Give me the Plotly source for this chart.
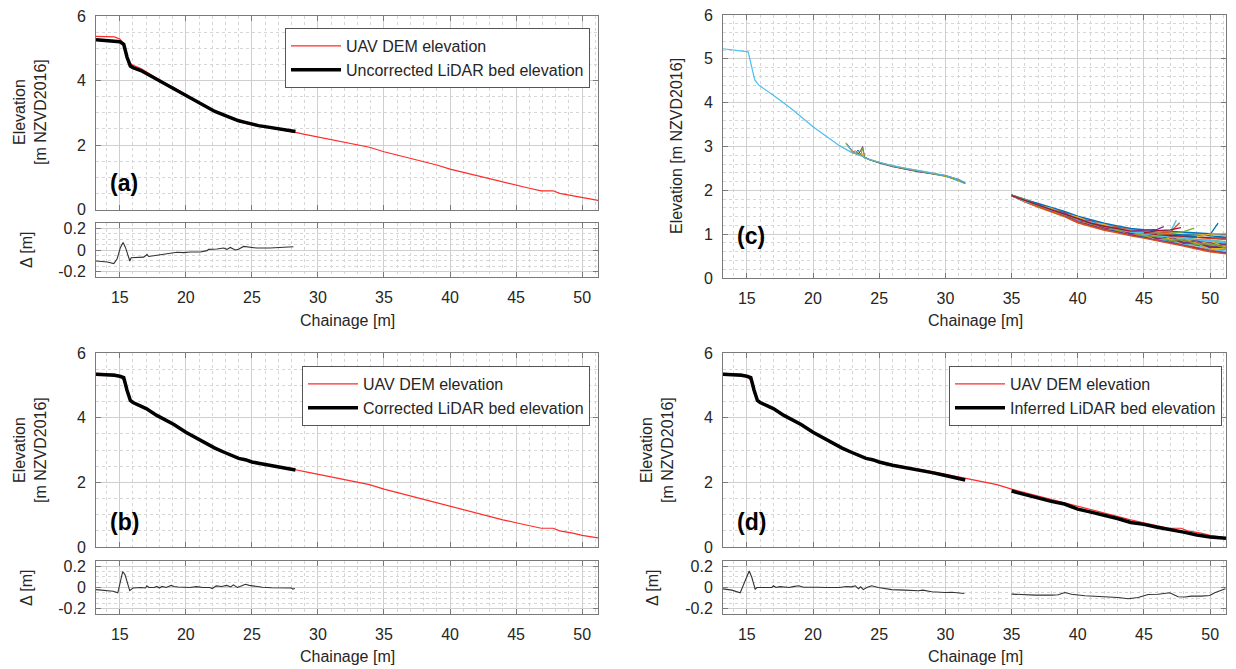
import plotly.graph_objects as go

W, H = 1236, 669

# ---------------- data ----------------
UAV_X = [13.2, 14.0, 14.6, 15.0, 15.3, 15.55, 15.8, 16.0, 16.6, 17.0, 17.8, 18.5, 19.1, 20.0, 20.4,
         21.0, 21.6, 22.2, 22.9, 23.3, 23.6, 24.0, 24.5, 25.0, 25.5, 26.0, 26.5, 27.0, 27.5, 28.3,
         29.0, 30.0, 31.4, 32.7, 33.9, 35.0, 36.5, 37.6, 39.0, 40.0, 41.5, 42.8, 44.0, 45.0, 46.0,
         46.9, 47.8, 48.3, 49.3, 50.0, 51.2]
UAV_Y = [5.37, 5.36, 5.35, 5.29, 5.15, 4.75, 4.53, 4.47, 4.37, 4.27, 4.07, 3.90, 3.78, 3.55, 3.46,
         3.32, 3.17, 3.05, 2.92, 2.86, 2.80, 2.73, 2.67, 2.62, 2.58, 2.55, 2.52, 2.49, 2.46, 2.39,
         2.33, 2.25, 2.15, 2.03, 1.93, 1.79, 1.63, 1.53, 1.38, 1.25, 1.10, 0.96, 0.84, 0.75, 0.66,
         0.58, 0.58, 0.50, 0.43, 0.36, 0.28]

BED_X = [13.2, 14.0, 14.6, 15.0, 15.3, 15.55, 15.8, 16.0, 16.6, 17.0, 17.8, 18.5, 19.1, 20.0, 20.4,
         21.0, 21.6, 22.2, 22.9, 23.3, 23.6, 24.0, 24.5, 25.0, 25.5, 26.0, 26.5, 27.0, 27.5, 28.3]
UNCORR_Y = [5.26, 5.24, 5.22, 5.20, 5.12, 4.72, 4.45, 4.40, 4.31, 4.22, 4.03, 3.86, 3.74, 3.52, 3.44,
            3.30, 3.16, 3.04, 2.93, 2.86, 2.80, 2.75, 2.70, 2.64, 2.60, 2.57, 2.54, 2.51, 2.48, 2.42]
CORR_Y = [5.34, 5.33, 5.31, 5.28, 5.24, 4.85, 4.53, 4.47, 4.37, 4.28, 4.07, 3.91, 3.79, 3.55, 3.46,
          3.32, 3.17, 3.06, 2.93, 2.87, 2.80, 2.74, 2.70, 2.63, 2.59, 2.55, 2.52, 2.48, 2.45, 2.38]

INF1_X = [13.2, 14.0, 14.6, 15.0, 15.3, 15.55, 15.8, 16.0, 16.6, 17.0, 17.8, 18.5, 19.1, 20.0, 20.4,
          21.0, 21.6, 22.2, 22.9, 23.3, 23.6, 24.0, 24.5, 25.0, 26.0, 27.0, 28.0, 29.0, 30.0, 31.5]
INF1_Y = [5.34, 5.33, 5.31, 5.28, 5.24, 4.85, 4.53, 4.47, 4.37, 4.28, 4.07, 3.91, 3.79, 3.55, 3.46,
          3.32, 3.17, 3.06, 2.93, 2.87, 2.80, 2.74, 2.70, 2.63, 2.53, 2.46, 2.39, 2.30, 2.21, 2.07]
INF2_X = [35.0, 36.0, 37.0, 38.0, 39.0, 40.0, 41.0, 42.0, 43.0, 44.0, 45.0, 46.0, 47.0, 48.0, 49.0,
          50.0, 51.2]
INF2_Y = [1.73, 1.62, 1.52, 1.41, 1.33, 1.17, 1.08, 0.99, 0.88, 0.76, 0.70, 0.61, 0.54, 0.46, 0.37,
          0.31, 0.27]

DA_X = [13.2, 14.05, 14.55, 14.8, 15.05, 15.25, 15.43, 15.61, 15.76, 15.86, 16.06, 16.81, 17.07,
        17.19, 17.82, 18.33, 18.83, 19.33, 19.84, 20.34, 21.1, 21.6, 21.72, 22.35, 22.86, 23.11,
        23.36, 23.74, 23.99, 24.37, 24.62, 25.38, 26.38, 27.39, 28.14]
DA_Y = [-0.102, -0.111, -0.126, -0.081, 0.024, 0.069, 0.024, -0.051, -0.102, -0.072, -0.072,
        -0.066, -0.042, -0.060, -0.048, -0.036, -0.030, -0.021, -0.024, -0.018, -0.018, -0.006,
        0.006, 0.009, 0.018, 0.006, 0.024, 0.0, 0.006, 0.033, 0.030, 0.018, 0.018, 0.021, 0.030]

DB_X = [13.2, 13.9, 14.5, 14.85, 15.05, 15.22, 15.4, 15.6, 15.75, 16.0, 16.6, 16.95, 17.05, 17.2,
        17.6, 17.8, 18.0, 18.2, 18.5, 18.9, 19.1, 19.4, 19.8, 20.3, 20.8, 21.3, 21.8, 22.0, 22.3,
        22.7, 23.1, 23.4, 23.6, 23.9, 24.2, 24.5, 24.8, 25.2, 25.8, 26.5, 27.2, 27.8, 28.0, 28.1, 28.25]
DB_Y = [-0.02, -0.025, -0.035, -0.05, 0.06, 0.15, 0.12, 0.02, -0.03, -0.005, 0.0, -0.005, 0.015,
        0.0, 0.0, 0.01, -0.005, 0.01, 0.0, 0.02, 0.01, 0.005, 0.005, 0.0, 0.008, 0.0, 0.0, -0.01,
        0.015, 0.01, 0.02, 0.005, 0.025, 0.0, 0.015, 0.03, 0.02, 0.01, 0.002, -0.003, -0.005,
        -0.01, -0.005, -0.015, -0.01]

DD1_X = [13.2, 13.87, 14.5, 14.88, 15.18, 15.38, 15.63, 15.76, 16.3, 16.89, 17.01, 17.2, 17.5,
         17.9, 18.2, 18.5, 18.9, 19.3, 19.7, 20.41, 21.0, 21.67, 22.0, 22.5, 22.92, 23.2, 23.43,
         23.6, 23.8, 24.06, 24.43, 24.94, 25.94, 26.95, 27.96, 28.3, 28.96, 29.97, 30.5, 31.43]
DD1_Y = [-0.0125, -0.025, -0.05, 0.0625, 0.156, 0.094, -0.016, 0.0, 0.0, 0.0, 0.016, 0.0, 0.008,
         0.006, 0.0, 0.008, 0.016, 0.003, 0.005, 0.003, 0.0, 0.003, 0.0, 0.01, 0.006, 0.016, -0.012,
         0.006, -0.02, 0.0, 0.016, 0.0, -0.02, -0.025, -0.031, -0.025, -0.04, -0.047, -0.045, -0.056]
DD2_X = [35.0, 35.5, 36.77, 38.02, 38.52, 39.03, 39.53, 40.54, 41.79, 43.05, 43.8, 44.56, 45.32,
         46.07, 46.95, 47.58, 48.09, 48.58, 49.34, 49.97, 50.35, 50.85, 51.15]
DD2_Y = [-0.0625, -0.066, -0.072, -0.072, -0.069, -0.047, -0.063, -0.078, -0.084, -0.094, -0.106,
         -0.094, -0.066, -0.063, -0.05, -0.0875, -0.09, -0.081, -0.081, -0.075, -0.05, -0.031, -0.0125]

# panel (c)
C_MAIN_X = [13.2, 15.1, 15.6, 15.9, 17.0, 18.3, 20.0, 22.0, 23.0, 23.3, 23.6, 23.9, 24.2, 25.2,
            26.9, 28.6, 29.8, 31.45]
C_MAIN_Y = [5.23, 5.16, 4.52, 4.40, 4.17, 3.88, 3.45, 3.02, 2.85, 2.84, 2.80, 2.75, 2.71, 2.62,
            2.51, 2.42, 2.35, 2.16]
C_SEG_X = [22.5, 23.0, 23.2, 23.4, 23.6, 23.75, 23.9, 24.3, 25.0, 26.0, 27.0, 28.0, 29.0, 30.0,
           31.0, 31.5]
C_SEG_Y = [
    [3.08, 2.88, 2.84, 2.92, 2.82, 2.78, 2.74, 2.70, 2.64, 2.55, 2.49, 2.43, 2.38, 2.33, 2.24, 2.17],
    [3.07, 2.87, 2.90, 2.84, 2.80, 2.78, 2.74, 2.69, 2.63, 2.55, 2.48, 2.43, 2.37, 2.32, 2.23, 2.16],
    [3.09, 2.89, 2.85, 2.83, 2.93, 2.80, 2.75, 2.70, 2.63, 2.56, 2.50, 2.44, 2.39, 2.33, 2.24, 2.17],
    [3.08, 2.88, 2.84, 2.82, 2.90, 3.00, 2.76, 2.70, 2.62, 2.54, 2.48, 2.42, 2.38, 2.34, 2.25, 2.17],
    [3.06, 2.86, 2.83, 2.81, 2.79, 2.96, 2.75, 2.69, 2.63, 2.55, 2.49, 2.44, 2.38, 2.32, 2.23, 2.15],
    [3.08, 2.87, 2.84, 2.82, 2.80, 2.77, 2.74, 2.70, 2.64, 2.56, 2.50, 2.44, 2.39, 2.34, 2.25, 2.18],
]
SP_X = [35, 36, 37, 38, 39, 40, 41, 42, 43, 44, 45, 46, 47, 48, 49, 50, 51.2]
SP_Y = [
    [1.89, 1.80, 1.69, 1.60, 1.50, 1.38, 1.30, 1.22, 1.16, 1.10, 1.06, 1.03, 1.00, 0.98, 0.99, 0.96, 0.93],
    [1.88, 1.74, 1.63, 1.52, 1.41, 1.27, 1.19, 1.11, 1.05, 0.99, 0.93, 0.88, 0.82, 0.76, 0.70, 0.64, 0.58],
    [1.89, 1.78, 1.69, 1.56, 1.48, 1.35, 1.29, 1.18, 1.13, 1.05, 1.01, 0.94, 0.91, 0.84, 0.80, 0.74, 0.70],
    [1.88, 1.76, 1.64, 1.55, 1.44, 1.31, 1.24, 1.14, 1.09, 1.01, 0.97, 0.90, 0.87, 0.80, 0.77, 0.69, 0.65],
    [1.89, 1.79, 1.67, 1.58, 1.47, 1.36, 1.27, 1.20, 1.12, 1.08, 1.02, 0.99, 0.95, 0.92, 0.88, 0.86, 0.83],
    [1.88, 1.75, 1.66, 1.53, 1.45, 1.30, 1.24, 1.13, 1.08, 1.00, 0.95, 0.87, 0.84, 0.77, 0.74, 0.66, 0.61],
    [1.89, 1.77, 1.68, 1.57, 1.46, 1.37, 1.26, 1.21, 1.11, 1.07, 1.00, 0.97, 0.91, 0.89, 0.83, 0.81, 0.76],
    [1.88, 1.78, 1.65, 1.58, 1.45, 1.34, 1.28, 1.16, 1.13, 1.04, 1.02, 0.93, 0.92, 0.83, 0.82, 0.72, 0.72],
    [1.89, 1.76, 1.67, 1.54, 1.47, 1.32, 1.27, 1.15, 1.12, 1.02, 1.00, 0.91, 0.90, 0.81, 0.81, 0.70, 0.68],
    [1.88, 1.79, 1.68, 1.59, 1.49, 1.39, 1.31, 1.23, 1.17, 1.11, 1.08, 1.05, 1.04, 1.02, 1.01, 0.98, 0.97],
    [1.89, 1.75, 1.64, 1.54, 1.43, 1.29, 1.21, 1.12, 1.06, 0.98, 0.93, 0.86, 0.81, 0.74, 0.68, 0.61, 0.57],
    [1.88, 1.77, 1.68, 1.56, 1.48, 1.36, 1.29, 1.19, 1.15, 1.06, 1.04, 0.97, 0.96, 0.88, 0.87, 0.79, 0.80],
    [1.89, 1.78, 1.66, 1.57, 1.46, 1.35, 1.25, 1.19, 1.10, 1.06, 0.99, 0.96, 0.89, 0.87, 0.79, 0.77, 0.71],
    [1.88, 1.76, 1.67, 1.55, 1.47, 1.33, 1.28, 1.17, 1.14, 1.04, 1.03, 0.95, 0.94, 0.86, 0.85, 0.78, 0.77],
    [1.89, 1.77, 1.65, 1.56, 1.44, 1.34, 1.23, 1.17, 1.07, 1.03, 0.95, 0.92, 0.85, 0.83, 0.75, 0.73, 0.66],
    [1.88, 1.78, 1.69, 1.58, 1.49, 1.37, 1.30, 1.21, 1.16, 1.09, 1.05, 1.00, 0.98, 0.94, 0.92, 0.90, 0.88],
    [1.89, 1.75, 1.65, 1.53, 1.45, 1.31, 1.25, 1.14, 1.10, 1.01, 0.98, 0.89, 0.88, 0.79, 0.78, 0.68, 0.66],
    [1.88, 1.77, 1.66, 1.57, 1.46, 1.35, 1.26, 1.20, 1.11, 1.07, 0.99, 0.98, 0.90, 0.90, 0.82, 0.82, 0.74],
    [1.89, 1.76, 1.68, 1.55, 1.48, 1.33, 1.29, 1.16, 1.14, 1.03, 1.03, 0.93, 0.93, 0.84, 0.85, 0.75, 0.75],
    [1.88, 1.78, 1.67, 1.58, 1.47, 1.38, 1.27, 1.22, 1.12, 1.09, 1.01, 1.00, 0.92, 0.93, 0.85, 0.86, 0.79],
    [1.89, 1.76, 1.65, 1.56, 1.45, 1.32, 1.26, 1.15, 1.11, 1.02, 1.00, 0.90, 0.90, 0.80, 0.80, 0.70, 0.70],
    [1.88, 1.78, 1.70, 1.61, 1.52, 1.41, 1.33, 1.25, 1.19, 1.13, 1.10, 1.08, 1.07, 1.05, 1.03, 1.01, 1.00],
    [1.89, 1.74, 1.62, 1.51, 1.40, 1.26, 1.18, 1.09, 1.03, 0.96, 0.91, 0.85, 0.80, 0.73, 0.66, 0.60, 0.55],
    [1.88, 1.77, 1.66, 1.59, 1.46, 1.39, 1.26, 1.22, 1.10, 1.08, 0.98, 0.99, 0.88, 0.91, 0.79, 0.84, 0.71],
    [1.89, 1.76, 1.68, 1.54, 1.49, 1.31, 1.30, 1.14, 1.15, 1.00, 1.04, 0.89, 0.95, 0.80, 0.86, 0.69, 0.78],
    [1.88, 1.79, 1.65, 1.57, 1.44, 1.36, 1.23, 1.19, 1.08, 1.06, 0.96, 0.95, 0.86, 0.88, 0.77, 0.79, 0.68],
    [1.89, 1.75, 1.67, 1.55, 1.47, 1.33, 1.28, 1.17, 1.13, 1.05, 1.01, 0.97, 0.93, 0.91, 0.87, 0.85, 0.82],
    [1.88, 1.77, 1.66, 1.56, 1.46, 1.35, 1.25, 1.18, 1.12, 1.07, 1.03, 0.99, 0.97, 0.95, 0.94, 0.92, 0.91],
]
TAIL_X = [[44, 45, 46, 47, 47.45], [45, 46, 47, 47.7], [46, 47, 48, 48.8], [48, 49, 50, 50.6],
          [44, 45, 46, 46.5], [45, 46, 47, 47.8], [49, 50, 51.2]]
TAIL_Y = [[1.05, 1.04, 1.02, 1.06, 1.32], [1.04, 1.02, 1.05, 1.26], [1.00, 1.02, 1.06, 1.14],
          [0.97, 0.95, 0.99, 1.25], [1.07, 1.09, 1.11, 1.17], [1.03, 1.08, 1.10, 1.15],
          [0.94, 1.00, 1.02]]

MCOL = ['#0072BD', '#D95319', '#EDB120', '#7E2F8E', '#77AC30', '#4DBEEE', '#A2142F']

# ---------------- styling ----------------
FONT = 'Liberation Sans, Arial, Helvetica, sans-serif'
TXT = '#262626'
AXC = '#7a7a7a'
GRID = '#cfcfcf'
MGRID = '#d6d6d6'
RED = '#ff2a2a'

LX = [96 / W, 598 / W]
RX = [723 / W, 1226 / W]


def py(p):
    return 1 - p / H


fig = go.Figure()

# (a)
fig.add_trace(go.Scatter(x=UAV_X, y=UAV_Y, mode='lines', line=dict(color=RED, width=1.2),
                         name='UAV DEM elevation', xaxis='x', yaxis='y', legend='legend'))
fig.add_trace(go.Scatter(x=BED_X, y=UNCORR_Y, mode='lines', line=dict(color='black', width=3.5),
                         name='Uncorrected LiDAR bed elevation', xaxis='x', yaxis='y', legend='legend'))
fig.add_trace(go.Scatter(x=DA_X, y=DA_Y, mode='lines', line=dict(color='#333333', width=1.1),
                         showlegend=False, xaxis='x2', yaxis='y2'))
# (c)
fig.add_trace(go.Scatter(x=C_MAIN_X, y=C_MAIN_Y, mode='lines', line=dict(color=MCOL[5], width=1.2),
                         showlegend=False, xaxis='x3', yaxis='y3'))
for i, ys in enumerate(C_SEG_Y):
    fig.add_trace(go.Scatter(x=C_SEG_X, y=ys, mode='lines', line=dict(color=MCOL[i % 7], width=1),
                             showlegend=False, xaxis='x3', yaxis='y3'))
for i, ys in enumerate(SP_Y):
    fig.add_trace(go.Scatter(x=SP_X, y=ys, mode='lines', line=dict(color=MCOL[i % 7], width=1.4),
                             showlegend=False, xaxis='x3', yaxis='y3'))
for i, (tx, ty) in enumerate(zip(TAIL_X, TAIL_Y)):
    fig.add_trace(go.Scatter(x=tx, y=ty, mode='lines', line=dict(color=MCOL[(i * 3 + 5) % 7], width=1.3),
                             showlegend=False, xaxis='x3', yaxis='y3'))
# (b)
fig.add_trace(go.Scatter(x=UAV_X, y=UAV_Y, mode='lines', line=dict(color=RED, width=1.2),
                         name='UAV DEM elevation', xaxis='x4', yaxis='y4', legend='legend2'))
fig.add_trace(go.Scatter(x=BED_X, y=CORR_Y, mode='lines', line=dict(color='black', width=3.5),
                         name='Corrected LiDAR bed elevation', xaxis='x4', yaxis='y4', legend='legend2'))
fig.add_trace(go.Scatter(x=DB_X, y=DB_Y, mode='lines', line=dict(color='#333333', width=1.1),
                         showlegend=False, xaxis='x5', yaxis='y5'))
# (d)
fig.add_trace(go.Scatter(x=UAV_X, y=UAV_Y, mode='lines', line=dict(color=RED, width=1.2),
                         name='UAV DEM elevation', xaxis='x6', yaxis='y6', legend='legend3'))
fig.add_trace(go.Scatter(x=INF1_X, y=INF1_Y, mode='lines', line=dict(color='black', width=3.5),
                         name='Inferred LiDAR bed elevation', xaxis='x6', yaxis='y6', legend='legend3',
                         legendgroup='inf'))
fig.add_trace(go.Scatter(x=INF2_X, y=INF2_Y, mode='lines', line=dict(color='black', width=3.5),
                         name='Inferred LiDAR bed elevation', xaxis='x6', yaxis='y6', showlegend=False,
                         legendgroup='inf'))
fig.add_trace(go.Scatter(x=DD1_X, y=DD1_Y, mode='lines', line=dict(color='#333333', width=1.1),
                         showlegend=False, xaxis='x7', yaxis='y7'))
fig.add_trace(go.Scatter(x=DD2_X, y=DD2_Y, mode='lines', line=dict(color='#333333', width=1.1),
                         showlegend=False, xaxis='x7', yaxis='y7'))


def xax(domain, anchor, labels):
    return dict(domain=domain, anchor=anchor, range=[13.2, 51.2], dtick=5, tick0=0,
                showline=True, linecolor=AXC, linewidth=1, mirror='allticks', automargin=False,
                ticks='inside', ticklen=5, tickcolor=AXC, showticklabels=labels,
                showgrid=True, gridcolor=GRID, gridwidth=1, zeroline=False,
                tickfont=dict(size=16, color=TXT, family=FONT), ticklabelstandoff=6,
                minor=dict(dtick=1, tick0=0, showgrid=True, gridcolor=MGRID, griddash='dot', ticks=''))


def yax(domain, anchor, rng, dtick, mdt, tv=None, tt=None):
    d = dict(domain=domain, anchor=anchor, range=rng, dtick=dtick, tick0=0,
             showline=True, linecolor=AXC, linewidth=1, mirror='allticks', automargin=False,
             ticks='inside', ticklen=5, tickcolor=AXC,
             showgrid=True, gridcolor=GRID, gridwidth=1, zeroline=False,
             tickfont=dict(size=16, color=TXT, family=FONT), ticklabelstandoff=6,
             minor=dict(dtick=mdt, tick0=0, showgrid=True, gridcolor=MGRID, griddash='dot', ticks=''))
    if tv is not None:
        d['tickmode'] = 'array'
        d['tickvals'] = tv
        d['ticktext'] = tt
    return d


DTV = [-0.2, 0, 0.2]
DTT = ['-0.2', '0', '0.2']

A_MAIN = [py(209.5), py(16)]
A_DEL = [py(277), py(223)]
C_DOM = [py(278), py(15)]
B_MAIN = [py(547), py(353)]
B_DEL = [py(614), py(561)]

legend_common = dict(xanchor='right', yanchor='top', bordercolor='#555555', borderwidth=1,
                     bgcolor='white', font=dict(size=16, color=TXT, family=FONT),
                     tracegroupgap=0, itemwidth=50)

fig.update_layout(
    width=W, height=H, margin=dict(l=0, r=0, t=0, b=0, autoexpand=False),
    paper_bgcolor='white', plot_bgcolor='white',
    font=dict(family=FONT, color=TXT, size=16),
    showlegend=True,
    legend=dict(x=590 / W, y=py(28), **legend_common),
    legend2=dict(x=590 / W, y=py(366), **legend_common),
    legend3=dict(x=1222 / W, y=py(366), **legend_common),
    xaxis=xax(LX, 'y', False), yaxis=yax(A_MAIN, 'x', [0, 6], 2, 0.5),
    xaxis2=xax(LX, 'y2', True), yaxis2=yax(A_DEL, 'x2', [-0.25, 0.25], 0.2, 0.05, DTV, DTT),
    xaxis3=xax(RX, 'y3', True), yaxis3=yax(C_DOM, 'x3', [0, 6], 1, 0.2),
    xaxis4=xax(LX, 'y4', False), yaxis4=yax(B_MAIN, 'x4', [0, 6], 2, 0.5),
    xaxis5=xax(LX, 'y5', True), yaxis5=yax(B_DEL, 'x5', [-0.25, 0.25], 0.2, 0.05, DTV, DTT),
    xaxis6=xax(RX, 'y6', False), yaxis6=yax(B_MAIN, 'x6', [0, 6], 2, 0.5),
    xaxis7=xax(RX, 'y7', True), yaxis7=yax(B_DEL, 'x7', [-0.25, 0.25], 0.2, 0.05, DTV, DTT),
)

ann = []


def text(xp, yp, s, size=16, angle=0, bold=False, xanchor='center'):
    ann.append(dict(x=xp / W, y=py(yp), xref='paper', yref='paper', text=('<b>%s</b>' % s) if bold else s,
                    showarrow=False, textangle=angle, xanchor=xanchor, yanchor='middle',
                    font=dict(size=size, color=TXT if not bold else 'black', family=FONT)))


# y titles
text(30, 112, 'Elevation<br>[m NZVD2016]', angle=-90)
text(30, 450, 'Elevation<br>[m NZVD2016]', angle=-90)
text(657, 450, 'Elevation<br>[m NZVD2016]', angle=-90)
text(676, 146, 'Elevation [m NZVD2016]', angle=-90)
text(26, 250, 'Δ [m]', angle=-90)
text(26, 588, 'Δ [m]', angle=-90)
text(652, 588, 'Δ [m]', angle=-90)
# x titles
text(347, 320, 'Chainage [m]')
text(975, 320, 'Chainage [m]')
text(347, 656, 'Chainage [m]')
text(975, 656, 'Chainage [m]')
# panel labels
text(108, 183, '(a)', size=23, bold=True, xanchor='left')
text(735, 236, '(c)', size=23, bold=True, xanchor='left')
text(108, 522, '(b)', size=23, bold=True, xanchor='left')
text(735, 522, '(d)', size=23, bold=True, xanchor='left')

fig.update_layout(annotations=ann)

fig.write_html('out.html', config={'displayModeBar': False},
               post_script="document.body.style.margin='0';document.body.style.padding='0';"
                           "document.documentElement.style.overflow='hidden';")
